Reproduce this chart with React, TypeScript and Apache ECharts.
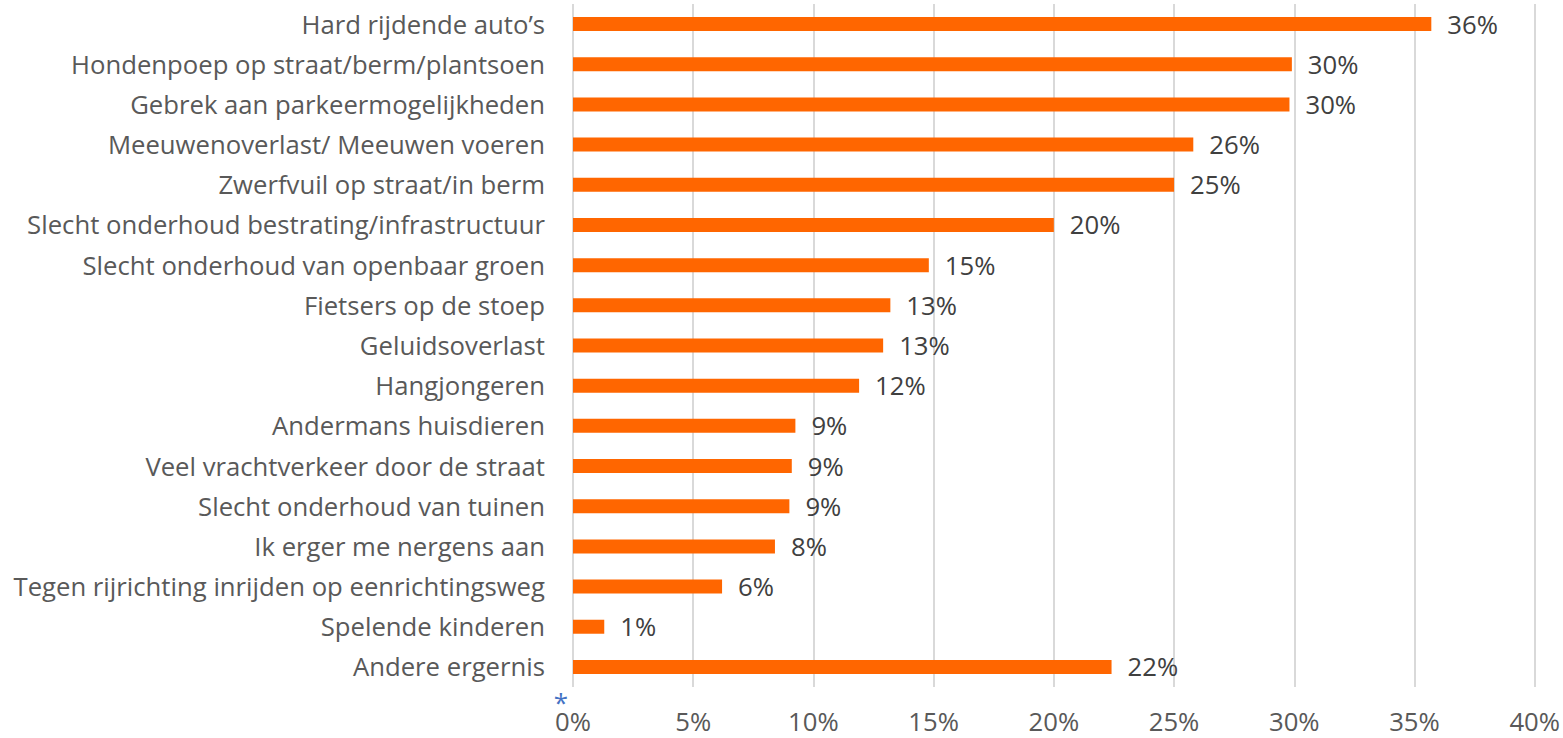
import React, { useEffect, useRef } from "react";
import * as echarts from "echarts";

const categories = [
  "Hard rijdende auto’s",
  "Hondenpoep op straat/berm/plantsoen",
  "Gebrek aan parkeermogelijkheden",
  "Meeuwenoverlast/ Meeuwen voeren",
  "Zwerfvuil op straat/in berm",
  "Slecht onderhoud bestrating/infrastructuur",
  "Slecht onderhoud van openbaar groen",
  "Fietsers op de stoep",
  "Geluidsoverlast",
  "Hangjongeren",
  "Andermans huisdieren",
  "Veel vrachtverkeer door de straat",
  "Slecht onderhoud van tuinen",
  "Ik erger me nergens aan",
  "Tegen rijrichting inrijden op eenrichtingsweg",
  "Spelende kinderen",
  "Andere ergernis",
];

const values = [35.7, 29.9, 29.8, 25.8, 25.0, 20.0, 14.8, 13.2, 12.9, 11.9, 9.25, 9.1, 9.0, 8.4, 6.2, 1.3, 22.4];

const FONT = "'Open Sans', sans-serif";
const FS = 25.7;

export default function App() {
  const ref = useRef<HTMLDivElement>(null);
  useEffect(() => {
    document.body.style.margin = "0";
    const chart = echarts.init(ref.current!, null, { renderer: "svg" });
    chart.setOption({
      animation: false,
      grid: { left: 573, right: 28, top: 4, bottom: 51, containLabel: false },
      xAxis: {
        type: "value",
        min: 0,
        max: 40,
        interval: 5,
        axisLine: { show: false },
        axisTick: { show: false },
        splitLine: { show: true, lineStyle: { color: "#D9D9D9", width: 2 } },
        axisLabel: {
          formatter: (v: number) => `${v}%`,
          fontSize: FS,
          lineHeight: 24,
          fontFamily: FONT,
          color: "#595959",
          margin: 22,
        },
      },
      yAxis: {
        type: "category",
        data: categories,
        inverse: true,
        axisLine: { show: false },
        axisTick: { show: false },
        axisLabel: {
          fontSize: FS,
          fontFamily: FONT,
          color: "#595959",
          margin: 28,
        },
      },
      series: [
        {
          type: "bar",
          data: values,
          barWidth: 14,
          itemStyle: { color: "#FF6600" },
          label: {
            show: true,
            position: "right",
            distance: 16,
            formatter: (p: any) => `${Math.round(p.value)}%`,
            fontSize: FS,
            fontFamily: FONT,
            color: "#404040",
          },
        },
      ],
      graphic: [
        {
          type: "text",
          x: 561,
          y: 702,
          style: {
            text: "*",
            fontSize: 26,
            lineHeight: 12,
            fontFamily: FONT,
            fill: "#4472C4",
            textAlign: "center",
            textVerticalAlign: "middle",
          },
        },
      ],
    });
    return () => chart.dispose();
  }, []);
  return <div ref={ref} style={{ width: 1563, height: 738 }} />;
}
